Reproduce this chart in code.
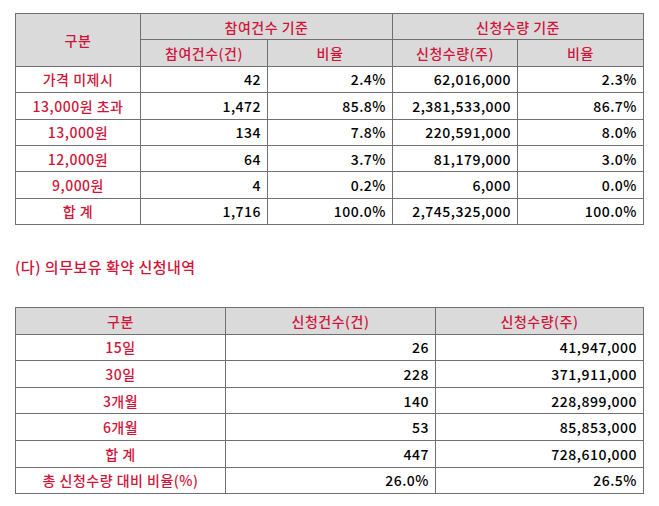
<!DOCTYPE html>
<html><head><meta charset="utf-8">
<script src="https://cdn.jsdelivr.net/npm/chart.js@4"></script>
<style>
body{margin:0;background:#fff;font-family:"Noto Sans CJK KR",sans-serif;font-size:14px;}
table{position:absolute;border-collapse:collapse;left:15px;width:628px;table-layout:fixed;}
td,th{border:1px solid #707070;padding:0 6px;height:25.4px;color:#000;font-weight:500;letter-spacing:0.5px;}
th{background:#dadada;color:#d0143a;text-align:center;}
td.l{color:#d0143a;text-align:center;}
td.n{text-align:right;}
#t1{top:13px;}
#t2{top:307px;}
#t2 td,#t2 th{height:25.6px;}
#title{position:absolute;left:15px;top:256px;color:#d0143a;font-size:15px;font-weight:500;letter-spacing:0.5px;}
</style></head><body>
<table id="t1"><colgroup><col style="width:125px"><col style="width:127px"><col style="width:125px"><col style="width:125px"><col style="width:126px"></colgroup>
<thead><tr><th rowspan="2" id="h0"></th><th colspan="2" id="h1"></th><th colspan="2" id="h2"></th></tr>
<tr id="h3"></tr></thead><tbody id="b1"></tbody></table>
<div id="title"></div>
<table id="t2"><colgroup><col style="width:210px"><col style="width:210px"><col style="width:208px"></colgroup>
<thead><tr id="h4"></tr></thead><tbody id="b2"></tbody></table>
<script>
const t1Groups=["구분","참여건수 기준","신청수량 기준"];
const t1Sub=["참여건수(건)","비율","신청수량(주)","비율"];
const t1Cats=["가격 미제시","13,000원 초과","13,000원","12,000원","9,000원","합 계"];
const t1Count=["42","1,472","134","64","4","1,716"];
const t1CountPct=["2.4%","85.8%","7.8%","3.7%","0.2%","100.0%"];
const t1Qty=["62,016,000","2,381,533,000","220,591,000","81,179,000","6,000","2,745,325,000"];
const t1QtyPct=["2.3%","86.7%","8.0%","3.0%","0.0%","100.0%"];
const title2="(다) 의무보유 확약 신청내역";
const t2Head=["구분","신청건수(건)","신청수량(주)"];
const t2Cats=["15일","30일","3개월","6개월","합 계","총 신청수량 대비 비율(%)"];
const t2Count=["26","228","140","53","447","26.0%"];
const t2Qty=["41,947,000","371,911,000","228,899,000","85,853,000","728,610,000","26.5%"];
h0.textContent=t1Groups[0];h1.textContent=t1Groups[1];h2.textContent=t1Groups[2];
h3.innerHTML=t1Sub.map(s=>`<th>${s}</th>`).join('');
b1.innerHTML=t1Cats.map((c,i)=>`<tr><td class="l">${c}</td><td class="n">${t1Count[i]}</td><td class="n">${t1CountPct[i]}</td><td class="n">${t1Qty[i]}</td><td class="n">${t1QtyPct[i]}</td></tr>`).join('');
title.textContent=title2;
h4.innerHTML=t2Head.map(s=>`<th>${s}</th>`).join('');
b2.innerHTML=t2Cats.map((c,i)=>`<tr><td class="l">${c}</td><td class="n">${t2Count[i]}</td><td class="n">${t2Qty[i]}</td></tr>`).join('');
</script></body></html>
